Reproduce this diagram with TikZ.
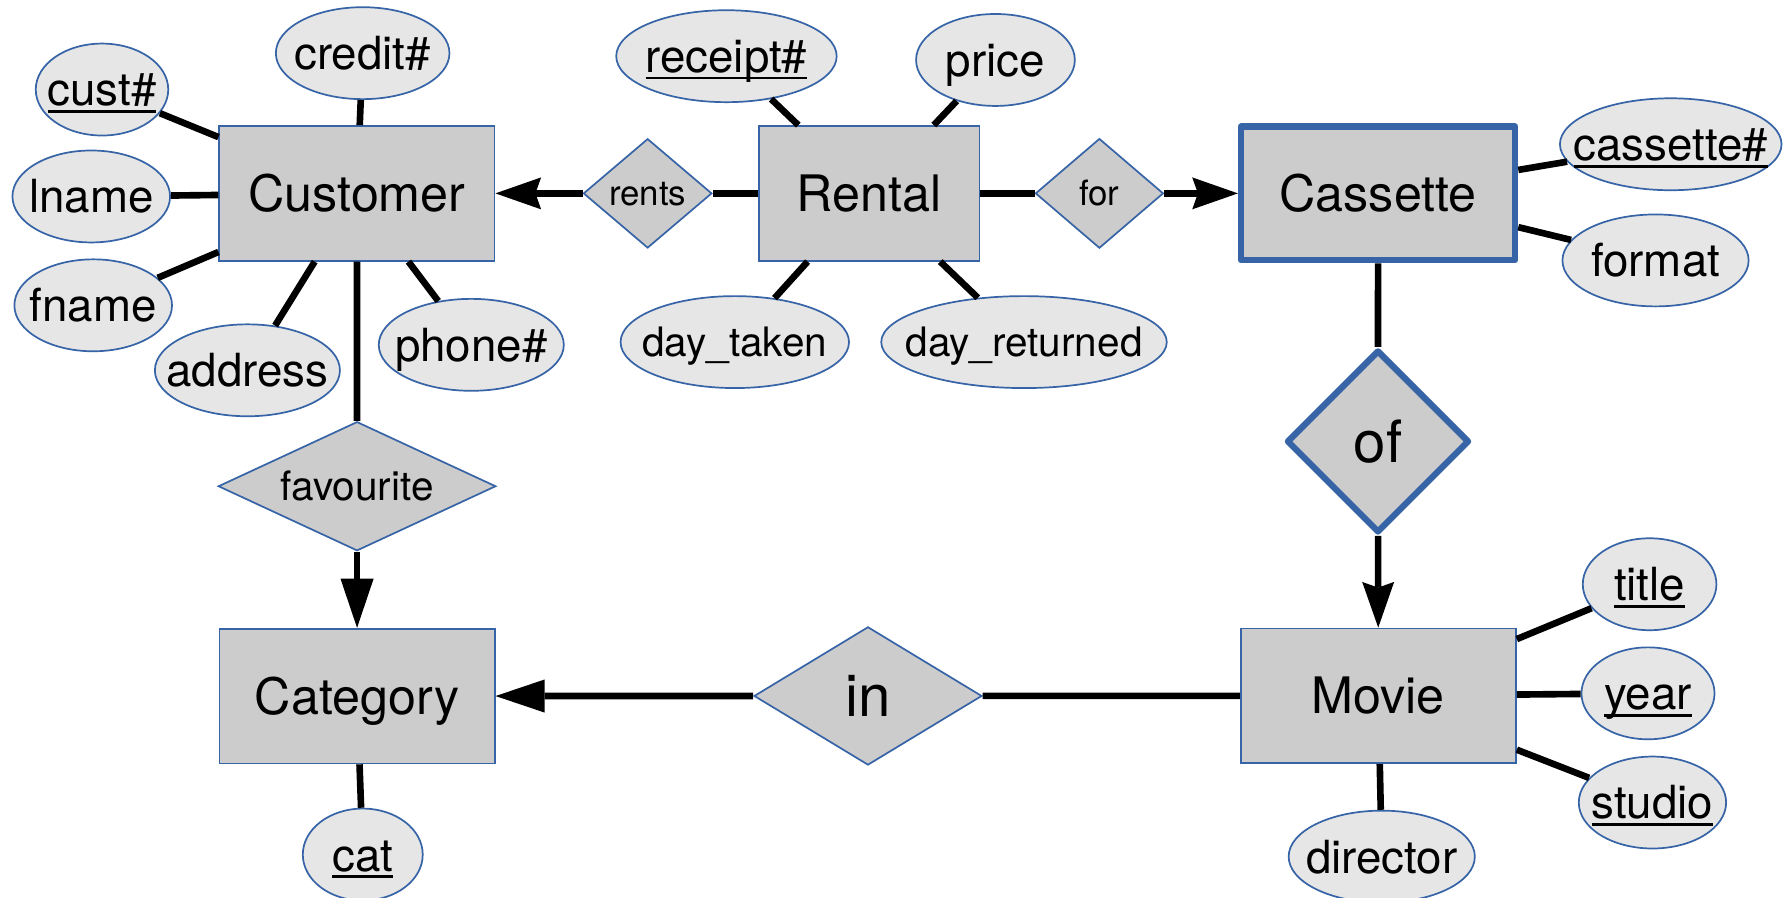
\documentclass[tikz,border=0pt]{standalone}
\usepackage{fontspec}
\setmainfont{TeX Gyre Heros}
\usetikzlibrary{positioning,shapes.geometric,arrows.meta}

\definecolor{erblue}{RGB}{54,100,166}
\definecolor{erfill}{RGB}{204,204,204}
\definecolor{erattrfill}{RGB}{230,230,230}

% key attribute: underline at a fixed depth, through the descenders
\newcommand{\erkey}[1]{\setbox0=\hbox{#1}\rlap{\rule[-0.15em]{\wd0}{0.06em}}\box0}

\tikzset{
	erbox/.style={
		draw=erblue,
		fill=erfill,
		line width=1.5pt,
		inner sep=0pt,
		text depth=0pt
	},
	erEntity/.style={erbox, rectangle, minimum width=241pt, minimum height=118pt,
		font=\fontsize{44}{48}\selectfont, text height=31.7pt},
	erEntityBold/.style={erEntity, line width=5.5pt, line join=round, minimum width=240pt, minimum height=117pt},
	erRel/.style={erbox, diamond, font=\fontsize{30.5}{34}\selectfont, text height=22pt},
	erRelBig/.style={erRel, font=\fontsize{51}{56}\selectfont, text height=36.7pt},
	erRelBold/.style={erRelBig, line width=5.5pt, line join=round},
	erAttr/.style={erbox, ellipse, fill=erattrfill, minimum height=80.5pt,
		font=\fontsize{40}{44}\selectfont, text height=28.8pt,
		execute at begin node={\hbox to 0pt\bgroup\hss},
		execute at end node={\hss\egroup}},
	erAttrSmall/.style={erAttr, font=\fontsize{35.5}{40}\selectfont, text height=25.6pt},
	erLine/.style={line width=5.8pt},
	erArrow/.style={erLine, -{Triangle[length=43pt,width=29pt,line width=0pt]}},
	erArrowNotch/.style={erLine, -{Stealth[length=40pt,width=28pt,inset=5pt,line width=0pt]}}
}

\begin{document}
\begin{tikzpicture}[x=1pt, y=-1pt]
	\useasboundingbox (0,0) rectangle (1568,786);

	% Entities
	\node[erEntity] (customer) at (312.5,169.3) {Customer};
	\node[erEntity, minimum width=193pt] (rental) at (761,169.3) {Rental};
	\node[erEntityBold] (cassette) at (1206.5,169.3) {Cassette};
	\node[erEntity] (category) at (312.6,609.4) {Category};
	\node[erEntity] (movie) at (1206.7,609.2) {Movie};

	% Relationships
	\node[erRel, minimum width=112.5pt, minimum height=95.7pt] (rents) at (567,169.3) {rents};
	\node[erRel, minimum width=112pt, minimum height=96pt] (for) at (962.5,169.3) {for};
	\node[erRel, font=\fontsize{35.5}{40}\selectfont, text height=25.6pt, aspect=2.15,
		minimum width=243pt, minimum height=113pt] (favourite) at (312.6,425.7) {favourite};
	\node[erRelBig, minimum width=199.5pt, minimum height=121pt] (in) at (759.9,609.3) {in};
	\node[erRelBold, minimum width=160pt, minimum height=160pt] (of) at (1206.4,386.5) {of};

	% Customer attributes
	\node[erAttr, minimum width=152pt, above=22pt of customer, xshift=5pt] (credit) {credit\#};
	\node[erAttr, minimum width=116pt] (cust) at (89.3,78.4) {\erkey{cust\#}};
	\node[erAttr, minimum width=138pt] (lname) at (79.9,172) {lname};
	\node[erAttr, minimum width=138pt] (fname) at (81.6,267.3) {fname};
	\node[erAttr, minimum width=162pt] (address) at (216.6,324.2) {address};
	\node[erAttr, minimum width=162pt] (phone) at (412.6,301.9) {phone\#};

	% Rental attributes
	\node[erAttr, minimum width=193pt] (receipt) at (636,49.2) {\erkey{receipt\#}};
	\node[erAttr, minimum width=139pt] (price) at (871.5,52.5) {price};
	\node[erAttrSmall, minimum width=200pt] (taken) at (643.3,299.5) {day\_taken};
	\node[erAttrSmall, minimum width=250pt] (returned) at (896.5,299.5) {day\_returned};

	% Cassette attributes
	\node[erAttr, minimum width=194pt] (cassno) at (1462.7,126.3) {\erkey{cassette\#}};
	\node[erAttr, minimum width=163pt] (format) at (1449.4,228) {format};

	% Movie attributes
	\node[erAttr, minimum width=117pt] (title) at (1444.2,511.5) {\erkey{title}};
	\node[erAttr, minimum width=116.5pt] (year) at (1442.8,607) {\erkey{year}};
	\node[erAttr, minimum width=129pt] (studio) at (1446.7,702.6) {\erkey{studio}};
	\node[erAttr, minimum width=163pt, below=40pt of movie, xshift=3pt] (director) {director};

	% Category attribute
	\node[erAttr, minimum width=105pt, below=38pt of category, xshift=5pt] (cat) {\erkey{cat}};

	% Attribute links
	\draw[erLine] (credit) -- (customer);
	\draw[erLine] (cust) -- (customer);
	\draw[erLine] (lname) -- (customer);
	\draw[erLine] (fname) -- (customer);
	\draw[erLine] (address) -- (customer);
	\draw[erLine] (phone) -- (customer);

	\draw[erLine] (receipt) -- (rental);
	\draw[erLine] (price) -- (rental);
	\draw[erLine] (taken) -- (rental);
	\draw[erLine] (returned) -- (rental);

	\draw[erLine] (cassno) -- (cassette);
	\draw[erLine] (format) -- (cassette);

	\draw[erLine] (title) -- (movie);
	\draw[erLine] (year) -- (movie);
	\draw[erLine] (studio) -- (movie);
	\draw[erLine] (director) -- (movie);

	\draw[erLine] (cat) -- (category);

	% Relationship links
	\draw[erLine] (rental) -- (rents);
	\draw[erArrowNotch] (rents) -- (customer);
	\draw[erLine] (rental) -- (for);
	\draw[erArrowNotch] (for) -- (cassette);
	\draw[erLine] (cassette) -- (of);
	\draw[erArrowNotch] (of) -- (movie);
	\draw[erLine] (movie) -- (in);
	\draw[erArrow] (in) -- (category);
	\draw[erLine] (customer) -- (favourite);
	\draw[erArrow] (favourite) -- (category);

\end{tikzpicture}
\end{document}
